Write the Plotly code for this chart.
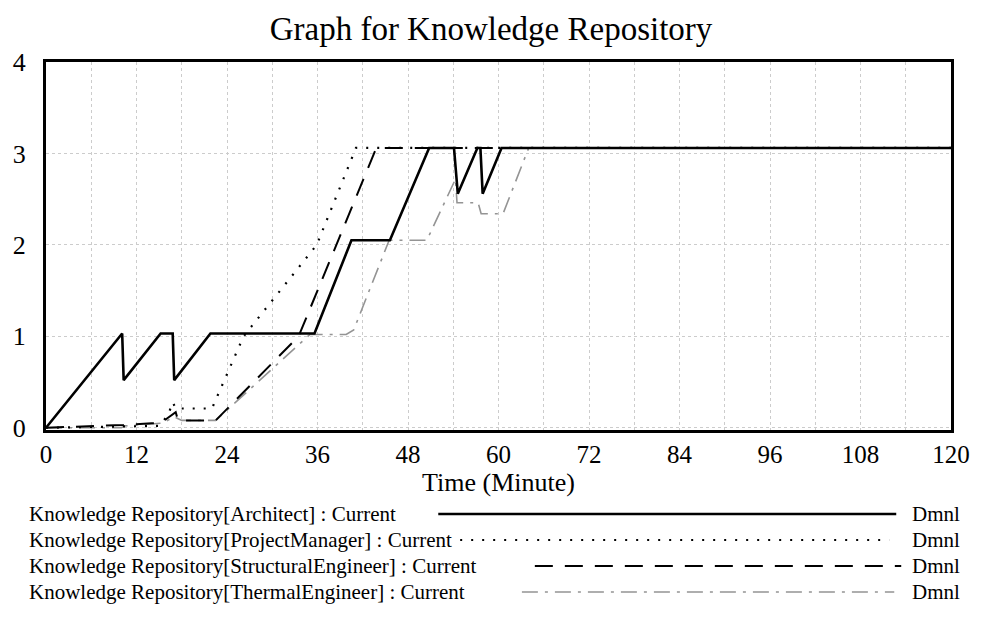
import plotly.graph_objects as go

# Simulation output (time in minutes, knowledge level in Dmnl)
arch_t = [0, 10.1, 10.3, 15.2, 16.8, 17.0, 21.8, 35.6, 40.5, 45.6, 50.8, 54.1, 54.6, 57.2, 57.6, 57.9, 60.4, 120]
arch_v = [0, 1.03, 0.52, 1.03, 1.03, 0.52, 1.03, 1.03, 2.05, 2.05, 3.06, 3.06, 2.56, 3.06, 3.06, 2.56, 3.06, 3.06]

pm_t = [0, 15.0, 16.2, 16.8, 17.2, 22.0, 26.2, 35.9, 41.1, 120]
pm_v = [0, 0.02, 0.14, 0.28, 0.21, 0.21, 1.00, 2.00, 3.06, 3.06]

se_t = [0, 10.3, 14.0, 15.2, 17.2, 17.5, 22.5, 33.5, 43.8, 120]
se_v = [0, 0.03, 0.05, 0.05, 0.17, 0.08, 0.08, 1.00, 3.06, 3.06]

te_t = [0, 10.0, 10.5, 14.0, 15.5, 17.0, 18.0, 22.5, 35.0, 39.8, 40.8, 45.5, 50.5, 54.3, 54.5,
        57.3, 57.7, 60.6, 64.0, 120]
te_v = [0, 0, 0.02, 0.04, 0.05, 0.12, 0.08, 0.08, 1.02, 1.02, 1.07, 2.05, 2.05, 2.72, 2.46,
        2.46, 2.34, 2.34, 3.06, 3.06]

x_ticks = [0, 12, 24, 36, 48, 60, 72, 84, 96, 108, 120]
y_ticks = [0, 1, 2, 3, 4]

series_names = [
    "Knowledge Repository[Architect] : Current",
    "Knowledge Repository[ProjectManager] : Current",
    "Knowledge Repository[StructuralEngineer] : Current",
    "Knowledge Repository[ThermalEngineer] : Current",
]
unit_label = "Dmnl"

SERIF = "Liberation Serif, Times New Roman, serif"
W, H = 982, 640
ML, MR, MT, MB = 46, 27, 62, 210
PW, PH = W - ML - MR, H - MT - MB

styles = [
    dict(color="black", width=2.6, dash="solid"),
    dict(color="black", width=2.2, dash="2px,9px"),
    dict(color="black", width=2.0, dash="18px,12px"),
    dict(color="#949494", width=1.6, dash="16px,7px,3px,7px"),
]

fig = go.Figure()
data = [(arch_t, arch_v), (pm_t, pm_v), (se_t, se_v), (te_t, te_v)]
# draw thermal first so the architect trace stays on top
for idx in [3, 2, 1, 0]:
    t, v = data[idx]
    fig.add_trace(go.Scatter(x=t, y=v, mode="lines", name=series_names[idx],
                             line=styles[idx], showlegend=False, hoverinfo="x+y"))


def px_x(px):
    return (px - ML) / PW


def px_y(py):
    return (H - MB - py) / PH


# legend block below the chart: label, sample line, unit
rows_y = [514, 540, 566, 592]
line_spans = [(440, 900), (462, 893), (537, 905), (524, 898)]
shapes = []
annotations = []
for i, name in enumerate(series_names):
    yy = px_y(rows_y[i])
    annotations.append(dict(text=name, x=px_x(27), y=yy, xref="paper", yref="paper",
                            xanchor="left", yanchor="middle", showarrow=False,
                            font=dict(family=SERIF, size=21, color="black")))
    annotations.append(dict(text=unit_label, x=px_x(966), y=yy, xref="paper", yref="paper",
                            xanchor="right", yanchor="middle", showarrow=False,
                            font=dict(family=SERIF, size=21, color="black")))
    x0, x1 = line_spans[i]
    st = styles[i]
    shapes.append(dict(type="line", xref="paper", yref="paper",
                       x0=px_x(x0), x1=px_x(x1), y0=yy, y1=yy,
                       line=dict(color=st["color"], width=st["width"], dash=st["dash"])))

fig.update_layout(
    width=W, height=H,
    margin=dict(l=ML, r=MR, t=MT, b=MB),
    paper_bgcolor="white", plot_bgcolor="white",
    title=dict(text="Graph for Knowledge Repository", x=0.5, xref="container",
               y=1 - 28 / H, yref="container", xanchor="center", yanchor="middle",
               font=dict(family=SERIF, size=33, color="black")),
    xaxis=dict(range=[0, 120], tickvals=x_ticks, ticktext=[str(v) for v in x_ticks],
               showline=True, mirror=True, linecolor="black", linewidth=3,
               showgrid=True, gridcolor="#cccccc", griddash="dot", gridwidth=1,
               minor=dict(dtick=6, tick0=0, showgrid=True, gridcolor="#cccccc",
                          griddash="dot", gridwidth=1),
               ticks="", zeroline=False,
               tickfont=dict(family=SERIF, size=25, color="black"),
               title=dict(text="Time (Minute)", standoff=3,
                          font=dict(family=SERIF, size=26, color="black"))),
    yaxis=dict(range=[-0.025, 4.0], tickvals=y_ticks, ticktext=[str(v) for v in y_ticks],
               showline=True, mirror=True, linecolor="black", linewidth=3,
               showgrid=True, gridcolor="#cccccc", griddash="dot", gridwidth=1,
               ticks="", zeroline=False, ticklabelstandoff=12,
               tickfont=dict(family=SERIF, size=26, color="black")),
    shapes=shapes,
    annotations=annotations,
)

fig.write_html("out.html")
